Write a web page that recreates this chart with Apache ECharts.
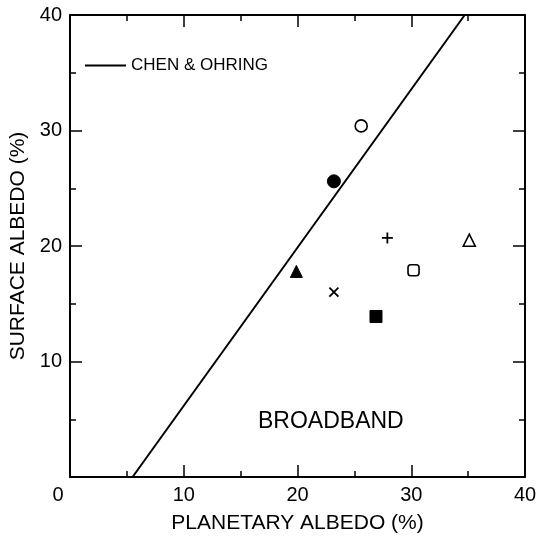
<!DOCTYPE html>
<html>
<head>
<meta charset="utf-8">
<script src="https://cdn.jsdelivr.net/npm/echarts@6/dist/echarts.min.js"></script>
<style>
  html, body { margin: 0; padding: 0; background: #fff; }
  #chart { width: 538px; height: 538px; }
</style>
</head>
<body>
<div id="chart"></div>
<script>
// Chen & Ohring relation (straight line)
const chenX = [5.5, 34.7]
const chenY = [0, 40]

// broadband points, one per symbol
const pointNames = ['open circle', 'filled circle', 'plus', 'open triangle', 'filled triangle', 'open square', 'cross', 'filled square']
const planetary = [25.6, 23.2, 27.9, 35.1, 19.9, 30.2, 23.2, 26.9]
const surface = [30.4, 25.6, 20.7, 20.5, 17.8, 17.9, 16.0, 13.9]
const symbols = ['circle', 'circle', 'path://M5,0L5,10M0,5L10,5', 'triangle', 'triangle', 'roundRect', 'path://M0,0L10,10M10,0L0,10', 'rect']
const filled = [false, true, null, false, true, false, null, true]
const sizes = [12, 13, 11, 12, 12, 11, 9, 12]

const xTicks = [0, 10, 20, 30, 40]
const yTicks = [0, 10, 20, 30, 40]

const font = 'Liberation Sans'
const chart = echarts.init(document.getElementById('chart'))

function axisBase (extra) {
  return Object.assign({
    type: 'value',
    min: xTicks[0],
    max: xTicks[xTicks.length - 1],
    interval: 10,
    axisLine: { show: true, onZero: false, lineStyle: { color: '#000', width: 2 } },
    axisTick: { show: true, inside: true, length: 12, lineStyle: { color: '#000', width: 1.5 } },
    minorTick: { show: true, splitNumber: 2, length: 6, lineStyle: { color: '#000', width: 1.5 } },
    splitLine: { show: false },
    axisLabel: { show: false }
  }, extra)
}

const series = [{
  name: 'CHEN & OHRING',
  type: 'line',
  data: chenX.map((x, i) => [x, chenY[i]]),
  symbol: 'none',
  lineStyle: { color: '#000', width: 2 },
  itemStyle: { color: '#000' },
  silent: true
}]

pointNames.forEach((n, i) => {
  let style
  if (filled[i] === null) {
    style = { color: 'transparent', borderColor: '#000', borderWidth: 1.8, opacity: 1 }
  } else if (filled[i]) {
    style = { color: '#000', borderColor: '#000', borderWidth: 1, opacity: 1 }
  } else {
    style = { color: '#fff', borderColor: '#000', borderWidth: 1.6, opacity: 1 }
  }
  series.push({
    name: n,
    type: 'scatter',
    data: [[planetary[i], surface[i]]],
    symbol: symbols[i],
    symbolSize: sizes[i],
    itemStyle: style,
    z: 3
  })
})

const option = {
  backgroundColor: '#fff',
  animation: false,
  grid: { left: 70, right: 13, top: 15, bottom: 61, outerBoundsMode: 'none', containLabel: false },
  legend: {
    data: [{ name: 'CHEN & OHRING', icon: 'rect' }],
    left: 80,
    top: 52,
    itemWidth: 41,
    itemHeight: 2,
    textStyle: { fontFamily: font, fontSize: 17, color: '#000' }
  },
  xAxis: [
    axisBase({
      position: 'bottom',
      name: 'PLANETARY ALBEDO (%)',
      nameLocation: 'middle',
      nameGap: 36,
      nameTextStyle: { fontFamily: font, fontSize: 21, color: '#000' },
      axisLabel: {
        show: true,
        margin: 8,
        fontFamily: font,
        fontSize: 20,
        color: '#000',
        formatter: v => v === 0 ? '{z|0}' : String(v),
        rich: { z: { fontFamily: font, fontSize: 20, color: '#000', padding: [0, 24, 0, 0] } }
      }
    }),
    axisBase({ position: 'top' })
  ],
  yAxis: [
    axisBase({
      position: 'left',
      min: yTicks[0],
      max: yTicks[yTicks.length - 1],
      name: 'SURFACE ALBEDO (%)',
      nameLocation: 'middle',
      nameGap: 39,
      nameTextStyle: { fontFamily: font, fontSize: 21, color: '#000' },
      axisLabel: {
        show: true,
        margin: 8,
        fontFamily: font,
        fontSize: 20,
        color: '#000',
        formatter: v => v === 0 ? '' : String(v)
      }
    }),
    axisBase({ position: 'right', min: yTicks[0], max: yTicks[yTicks.length - 1] })
  ],
  graphic: [{
    type: 'text',
    left: 258,
    top: 410,
    style: { text: 'BROADBAND', fontFamily: font, fontSize: 23, fill: '#000' }
  }],
  series: series
}

chart.setOption(option)
</script>
</body>
</html>
